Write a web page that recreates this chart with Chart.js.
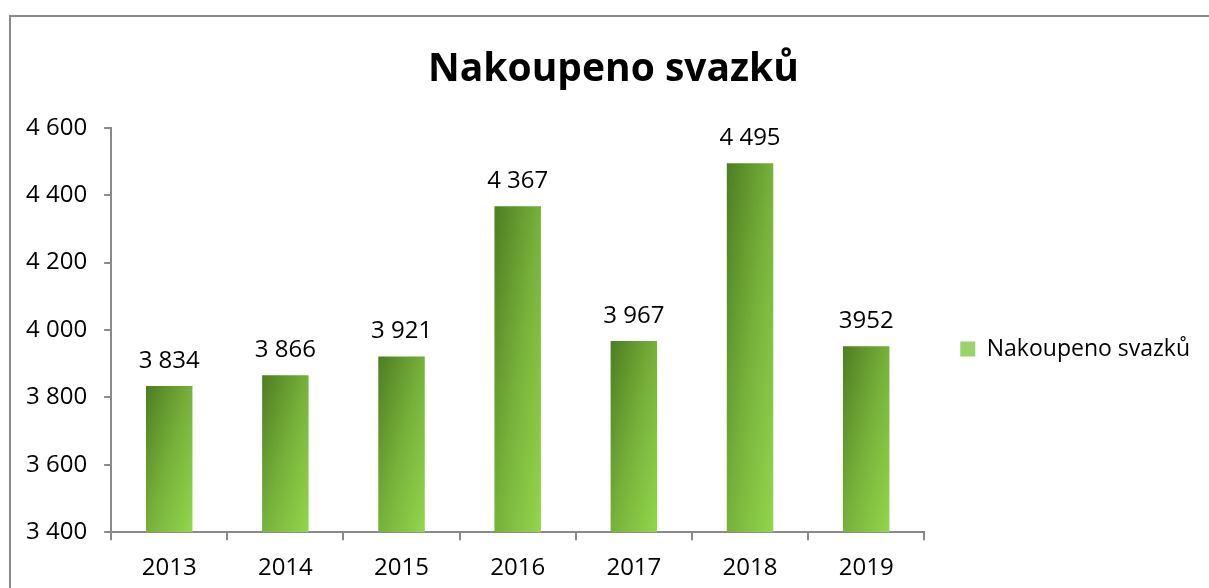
<!DOCTYPE html>
<html>
<head>
<meta charset="utf-8">
<script src="https://cdn.jsdelivr.net/npm/chart.js@4.4.0/dist/chart.umd.min.js"></script>
<style>
  html, body { margin: 0; padding: 0; background: #fff; overflow: hidden; }
  #frame { position: absolute; left: 9px; top: 15px; width: 1300px; height: 700px;
           border-top: 2px solid #8a8a8a; border-left: 2px solid #8a8a8a; }
  #wrap { position: absolute; left: 0; top: 0; width: 1209px; height: 588px; }
</style>
</head>
<body>
<div id="frame"></div>
<div id="wrap"><canvas id="chart"></canvas></div>
<script>
const years = ['2013', '2014', '2015', '2016', '2017', '2018', '2019'];
const bought = [3834, 3866, 3921, 4367, 3967, 4495, 3952];
const valueLabels = ['3 834', '3 866', '3 921', '4 367', '3 967', '4 495', '3952'];
const seriesName = 'Nakoupeno svazků';

const FONT = "'Open Sans', sans-serif";

function spaced(v) {
    return String(v).replace(/\B(?=(\d{3})+(?!\d))/g, ' ');
}

// Excel-like diagonal gradient scaled to each bar
function barFill(c) {
    const chart = c.chart;
    const xs = chart.scales.x, ys = chart.scales.y;
    if (!xs || !ys || !chart.chartArea) return '#76b13a';
    const cx = xs.getPixelForValue(c.dataIndex);
    const w = (xs.width / years.length) * 0.4;
    const top = ys.getPixelForValue(c.raw);
    const h = Math.max(ys.bottom - top, 1);
    const x0 = cx - w / 2;
    const t = 2 * w * h / (h * h + w * w);
    const g = chart.ctx.createLinearGradient(x0, top, x0 + h * t, top + w * t);
    g.addColorStop(0, '#4e7d22');
    g.addColorStop(0.5, '#76b13a');
    g.addColorStop(1, '#93d64c');
    return g;
}

const valueLabelPlugin = {
    id: 'valueLabels',
    afterLayout(chart) {
        // title in the original sits a bit right of the canvas centre
        if (chart.titleBlock) chart.titleBlock.left += 18;
    },
    afterDatasetsDraw(chart) {
        const ctx = chart.ctx;
        const meta = chart.getDatasetMeta(0);
        ctx.save();
        ctx.font = '24px ' + FONT;
        ctx.fillStyle = '#000';
        ctx.textAlign = 'center';
        ctx.textBaseline = 'middle';
        meta.data.forEach((bar, i) => {
            ctx.fillText(valueLabels[i], bar.x, bar.y - 25);
        });
        ctx.restore();
    }
};

const ctx = document.getElementById('chart').getContext('2d');
new Chart(ctx, {
    type: 'bar',
    data: {
        labels: years,
        datasets: [{
            label: seriesName,
            data: bought,
            backgroundColor: barFill,
            categoryPercentage: 1,
            barPercentage: 0.4
        }]
    },
    options: {
        responsive: true,
        maintainAspectRatio: false,
        animation: false,
        layout: { padding: { left: 9, right: 9, top: 10, bottom: 0 } },
        plugins: {
            title: {
                display: true,
                text: seriesName,
                color: '#000',
                font: { family: FONT, size: 39, weight: 'bold' },
                padding: { top: 36, bottom: 35 }
            },
            legend: {
                position: 'right',
                title: {
                    display: true,
                    text: ' ',
                    font: { size: 10 },
                    padding: { top: 0, bottom: 88 }
                },
                labels: {
                    color: '#000',
                    font: { family: FONT, size: 23 },
                    boxWidth: 15,
                    boxHeight: 15,
                    padding: 36,
                    generateLabels: () => [{
                        text: seriesName,
                        fillStyle: '#9ad36a',
                        strokeStyle: '#9ad36a',
                        fontColor: '#000',
                        lineWidth: 0,
                        datasetIndex: 0
                    }]
                }
            },
            tooltip: { enabled: false }
        },
        scales: {
            x: {
                afterFit: (scale) => { scale.height -= 9; },
                grid: {
                    display: true,
                    drawOnChartArea: false,
                    offset: true,
                    color: '#8a8a8a',
                    lineWidth: 2,
                    tickLength: 8
                },
                border: { color: '#8a8a8a', width: 2 },
                ticks: {
                    color: '#000',
                    font: { family: FONT, size: 24 },
                    padding: 14
                }
            },
            y: {
                min: 3400,
                max: 4600,
                grid: {
                    display: true,
                    drawOnChartArea: false,
                    color: '#8a8a8a',
                    lineWidth: 2,
                    tickLength: 7
                },
                border: { color: '#8a8a8a', width: 2 },
                ticks: {
                    stepSize: 200,
                    color: '#000',
                    font: { family: FONT, size: 24 },
                    padding: 17,
                    callback: (v) => spaced(v)
                }
            }
        }
    },
    plugins: [valueLabelPlugin]
});
</script>
</body>
</html>
